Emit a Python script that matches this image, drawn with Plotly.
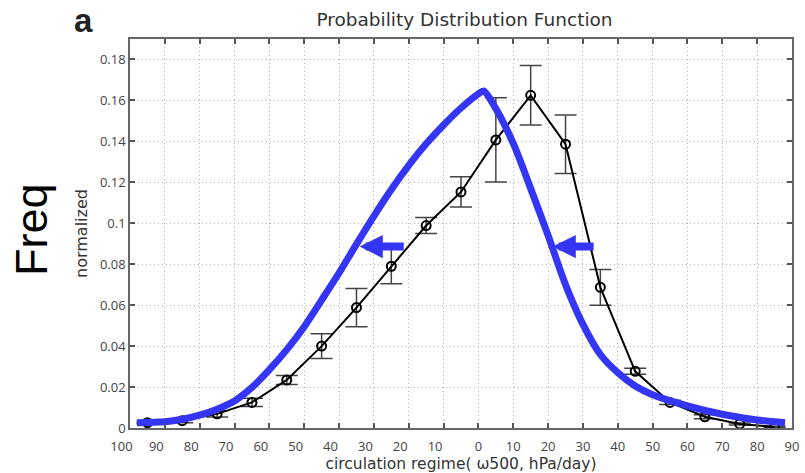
import plotly.graph_objects as go

# ---- data ----
bin_centers = [-95, -85, -75, -65, -55, -45, -35, -25, -15, -5,
               5, 15, 25, 35, 45, 55, 65, 75, 85]
pdf_values = [0.0026, 0.0036, 0.0069, 0.0125, 0.0235, 0.0400, 0.0588, 0.0790, 0.0989, 0.1153,
              0.1407, 0.1625, 0.1386, 0.0687, 0.0277, 0.0125, 0.0055, 0.0020, 0.0005]
pdf_errors = [0.0005, 0.0010, 0.0015, 0.0020, 0.0022, 0.0060, 0.0093, 0.0085, 0.0039, 0.0074,
              0.0206, 0.0145, 0.0143, 0.0087, 0.0015, 0.0010, 0.0010, 0.0005, 0.0003]

shift_x = [-98, -90, -85, -80, -75, -70, -65, -60, -55, -50, -45, -40, -35, -30, -25, -20,
           -15, -10, -5, 0, 1.5, 5, 10, 15, 20, 25, 30, 35, 40, 45, 50, 60, 70, 80, 88]
shift_y = [0.0026, 0.0031, 0.0043, 0.0063, 0.0092, 0.0132, 0.0198, 0.0285, 0.0383, 0.0495,
           0.0625, 0.0757, 0.0898, 0.1035, 0.1165, 0.1283, 0.1388, 0.1480, 0.1563, 0.1632,
           0.1646, 0.156, 0.139, 0.117, 0.094, 0.070, 0.0506, 0.0359, 0.027, 0.0205, 0.0162,
           0.0108, 0.0067, 0.0039, 0.0026]

x_tick_vals = [-100, -90, -80, -70, -60, -50, -40, -30, -20, -10, 0,
               10, 20, 30, 40, 50, 60, 70, 80, 90]
x_tick_text = ["100", "90", "80", "70", "60", "50", "40", "30", "20", "10", "0",
               "10", "20", "30", "40", "50", "60", "70", "80", "90"]
y_tick_vals = [0, 0.02, 0.04, 0.06, 0.08, 0.10, 0.12, 0.14, 0.16, 0.18]
y_tick_text = ["0", "0.02", "0.04", "0.06", "0.08", "0.1", "0.12", "0.14", "0.16", "0.18"]

# arrows: (tip x, tail x, y)
arrows = [(-34.1, -21.0, 0.0886), (21.3, 33.5, 0.0886)]

BLUE = "#3535f5"
FONT = "Open Sans"
WIDE = "DejaVu Sans"

# negative-side labels sit slightly left of their ticks in the reference
pad = "\u2007\u2007\u2009"
x_tick_text_disp = [t + pad if v < 0 else t for v, t in zip(x_tick_vals, x_tick_text)]

fig = go.Figure()

fig.add_trace(go.Scatter(
    x=bin_centers, y=pdf_values,
    mode="lines+markers",
    line=dict(color="black", width=2),
    marker=dict(symbol="circle-open", size=9, color="black", line=dict(width=2)),
    error_y=dict(type="data", array=pdf_errors, visible=True,
                 color="#444444", thickness=1.5, width=11),
    showlegend=False,
))

fig.add_trace(go.Scatter(
    x=shift_x, y=shift_y,
    mode="lines",
    line=dict(color=BLUE, width=7, shape="spline", smoothing=0.8),
    showlegend=False,
))

for tip, tail, yv in arrows:
    fig.add_annotation(x=tip, y=yv, ax=tail, ay=yv, xref="x", yref="y",
                       axref="x", ayref="y", text="", showarrow=True,
                       arrowhead=2, arrowsize=0.58, arrowwidth=8,
                       arrowcolor=BLUE, standoff=0)

fig.add_annotation(text="<b>a</b>", xref="paper", yref="paper",
                   x=-0.0695, y=1.1003, xanchor="center", yanchor="top",
                   showarrow=False, font=dict(family="Liberation Sans", size=33, color="#222"))
fig.add_annotation(text="Freq", xref="paper", yref="paper",
                   x=-0.148, y=0.509, xanchor="center", yanchor="middle",
                   textangle=-90, showarrow=False,
                   font=dict(family="Liberation Sans", size=45, color="black"))

axis_common = dict(
    showline=True, linecolor="#666666", linewidth=1.5, mirror="allticks",
    ticks="inside", ticklen=5, tickcolor="#555555", tickwidth=1.5,
    showgrid=True, gridcolor="#b4b4b4", gridwidth=1, griddash="1px,3px",
    zeroline=False,
    tickfont=dict(family=FONT, size=13, color="#444444"),
)

fig.update_layout(
    width=805, height=473,
    margin=dict(l=130, r=6, t=39, b=45),
    paper_bgcolor="white", plot_bgcolor="white",
    title=dict(text="Probability Distribution Function", x=0.577, xanchor="center",
               y=0.959, yanchor="middle", yref="container",
               font=dict(family=WIDE, size=18.5, color="#333333")),
    xaxis=dict(range=[-100, 90], tickvals=x_tick_vals, ticktext=x_tick_text_disp,
               tickangle=0, ticklabelstandoff=6,
               title=dict(text="circulation regime( \u03c9500, hPa/day)", standoff=0,
                          font=dict(family=WIDE, size=15.5, color="#333333")),
               **axis_common),
    yaxis=dict(range=[0, 0.19], tickvals=y_tick_vals, ticktext=y_tick_text,
               title=dict(text="normalized", standoff=8,
                          font=dict(family=WIDE, size=16, color="#333333")),
               **axis_common),
)

fig.write_html("out.html")
